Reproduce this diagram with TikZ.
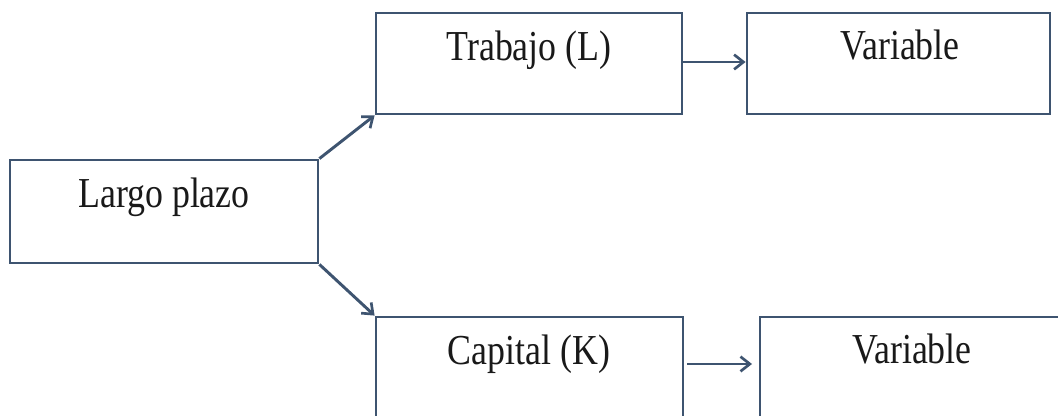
\documentclass[tikz,border=0pt]{standalone}
\usepackage{fontspec}
\setmainfont{Liberation Serif}
\usetikzlibrary{fit,arrows.meta}
\definecolor{edge}{HTML}{3E5470}
\tikzset{
  box/.style={draw=edge, line width=2.1pt, inner sep=0pt, fill=white},
  lbl/.style={inner sep=0pt, font=\fontsize{32}{36}\selectfont, text=black!90},
  arr/.style={draw=edge, line width=2.2pt, -{Straight Barb[length=7pt,width=11pt,line width=2pt]}}
}
\newcommand{\squeeze}[1]{\scalebox{0.84}[1]{#1}}
\begin{document}
\begin{tikzpicture}[x=0.75pt,y=-0.75pt]
\useasboundingbox (0,0) rectangle (1058,416);
\clip (0,0) rectangle (1058,416);
\fill[white] (0,0) rectangle (1058,416);
\node[box, fit={(10,160)(318,263)}] (largo) {};
\node[box, fit={(376,13)(682,114)}] (trabajo) {};
\node[box, fit={(747,13)(1050,114)}] (var1) {};
\node[box, fit={(376,317)(683,440)}] (capital) {};
\node[box, fit={(760,317)(1064,440)}] (var2) {};
\node[lbl, anchor=base] (tlargo) at (164,208) {\squeeze{Largo plazo}};
\node[lbl, anchor=base] (ttrab) at (529,61) {\squeeze{Trabajo (L)}};
\node[lbl, anchor=base] (tvar1) at (900,60) {\squeeze{Variable}};
\node[lbl, anchor=base] (tcap) at (529,365) {\squeeze{Capital (K)}};
\node[lbl, anchor=base] (tvar2) at (912,364) {\squeeze{Variable}};
\coordinate (c1) at (687,364);
\coordinate (c2) at (752,364);
\draw[arr] (largo.north east) -- (trabajo.south west);
\draw[arr] (largo.south east) -- (capital.north west);
\draw[arr] (trabajo.east |- 0,62) -- (var1.west |- 0,62);
\draw[arr] (c1) -- (c2);
\end{tikzpicture}
\end{document}
